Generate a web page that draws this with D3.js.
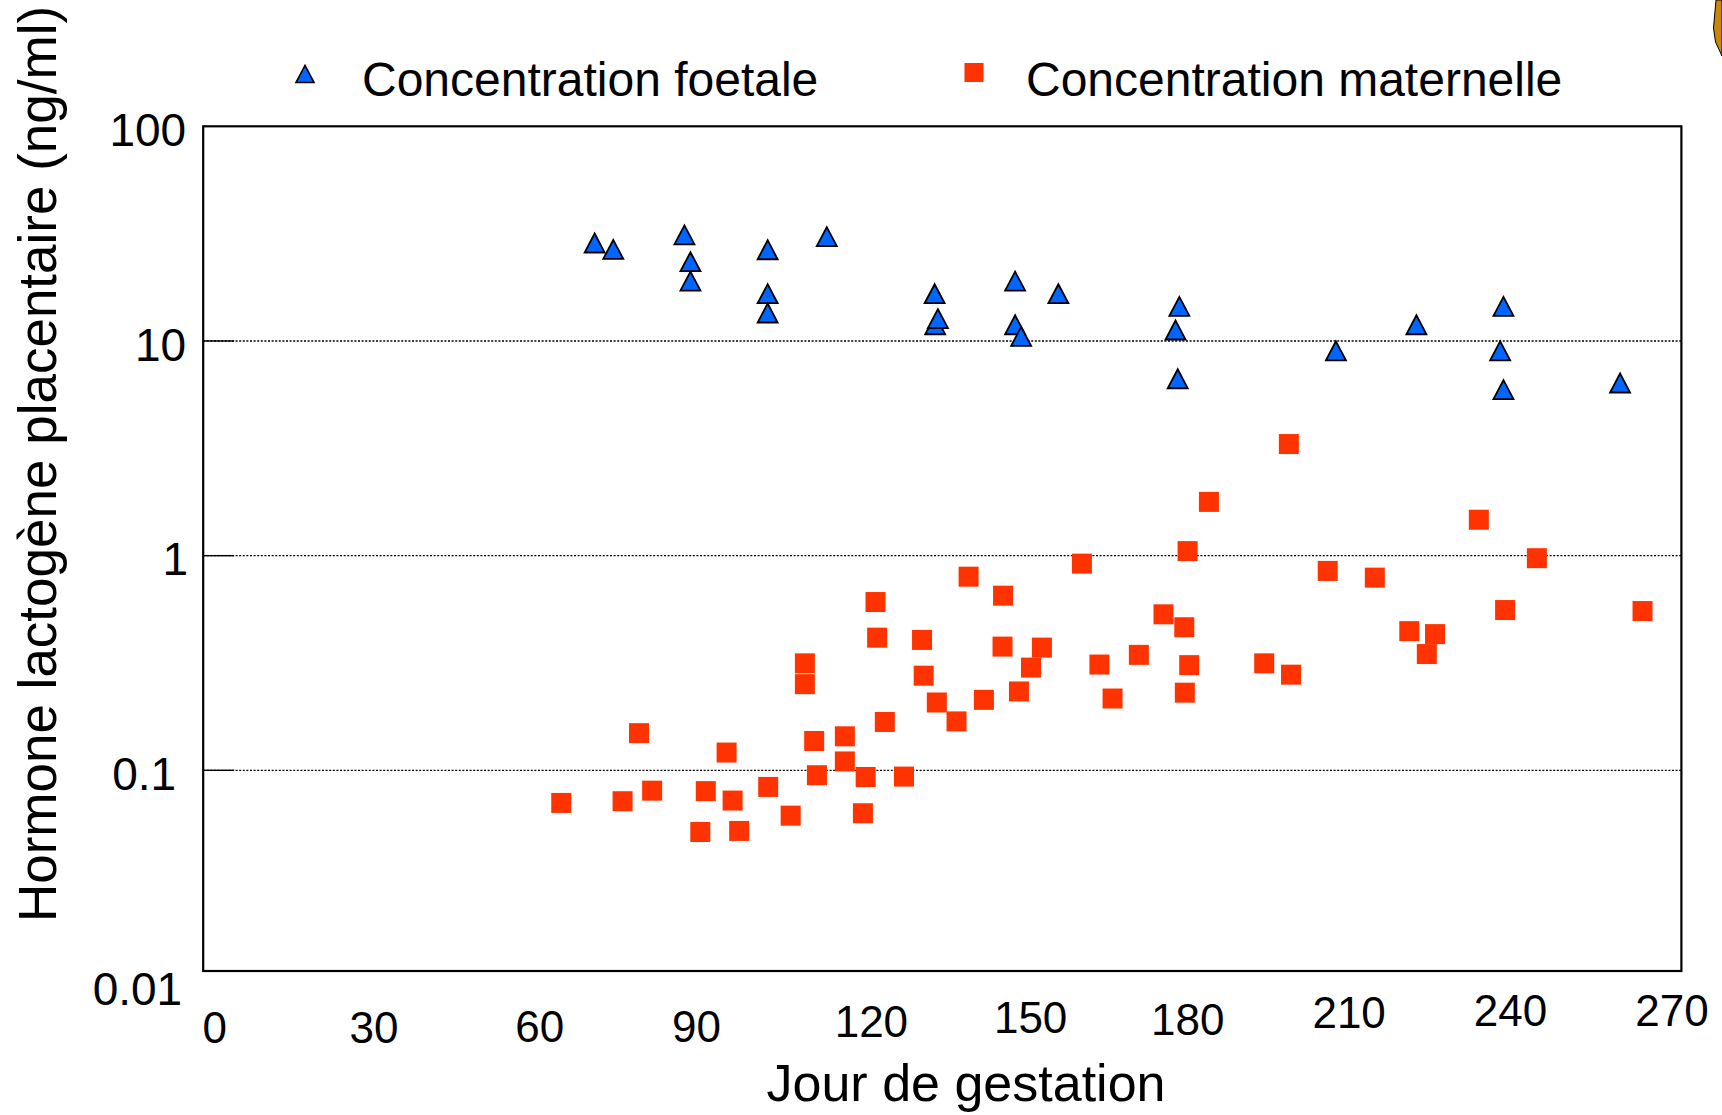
<!DOCTYPE html>
<html>
<head>
<meta charset="utf-8">
<script src="https://cdn.jsdelivr.net/npm/d3@7"></script>
<style>
  html, body { margin: 0; padding: 0; background: #ffffff; }
  svg { display: block; font-family: "Liberation Sans", Arial, Helvetica, sans-serif; }
</style>
</head>
<body>
<svg id="chart" width="1722" height="1115"></svg>
<script>
// ---------- DATA ----------
const xTicks = [0, 30, 60, 90, 120, 150, 180, 210, 240, 270];
const yTicks = [0.01, 0.1, 1, 10, 100];
const yTickLabels = ["0.01", "0.1", "1", "10", "100"];
const xTitle = "Jour de gestation";
const yTitle = "Hormone lactogène placentaire (ng/ml)";
const seriesNames = ["Concentration foetale", "Concentration maternelle"];

// Fetal concentration (triangles)
const fetalDay  = [71.5, 74.9, 87.9, 89.0, 89.0, 103.1, 103.1, 103.1, 113.9, 133.6, 133.7, 134.2,
                   148.3, 148.3, 149.4, 156.2, 178.3, 177.6, 178.0, 206.9, 221.6, 237.5, 236.9, 237.5, 258.8];
const fetalConc = [28.6, 26.7, 31.2, 23.4, 19.0, 26.6, 16.6, 13.5, 30.6, 16.6, 11.9, 12.7,
                   19.0, 11.9, 10.5, 16.6, 14.5, 11.25, 6.67, 9.0, 11.9, 14.5, 9.0, 5.93, 6.37];

// Maternal concentration (squares)
const maternalDay  = [65.4, 76.6, 79.6, 82.0, 90.8, 91.8, 95.6, 96.7, 97.9, 103.2, 107.3, 109.9,
                      109.9, 111.6, 112.1, 117.2, 117.2, 120.5, 121.0, 122.8, 123.1, 124.5, 128.0, 131.3,
                      131.6, 134.0, 137.6, 139.8, 142.6, 146.0, 146.1, 149.0, 151.2, 153.2, 160.5, 163.7,
                      166.1, 170.9, 175.4, 179.3, 179.2, 179.8, 180.1, 183.7, 193.8, 198.3, 198.7, 205.4,
                      214.0, 220.3, 223.5, 225.0, 233.0, 237.8, 243.6, 262.9];
const maternalConc = [0.0705, 0.0718, 0.149, 0.0804, 0.0516, 0.080, 0.121, 0.0723, 0.0522, 0.0837, 0.0615, 0.315,
                      0.252, 0.137, 0.0949, 0.144, 0.110, 0.0631, 0.0931, 0.608, 0.415, 0.168, 0.0935, 0.405,
                      0.276, 0.207, 0.169, 0.798, 0.213, 0.377, 0.651, 0.233, 0.301, 0.373, 0.918, 0.311,
                      0.216, 0.345, 0.533, 0.230, 0.464, 1.05, 0.309, 1.78, 0.315, 3.31, 0.279, 0.849,
                      0.790, 0.445, 0.348, 0.431, 1.47, 0.558, 0.973, 0.552];

// ---------- LAYOUT ----------
const W = 1722, H = 1115;
const plotLeft = 203.2, plotRight = 1681.4, plotTop = 126.3, frameBottom = 971;
const blue = "#0066ff", red = "#ff3300";

const svg = d3.select("#chart");
svg.append("rect").attr("width", W).attr("height", H).attr("fill", "#fff");

const x = d3.scaleLinear().domain([0, 270]).range([plotLeft, plotRight]);
const y = d3.scaleLog().domain([0.01, 100]).range([985, plotTop]);

// gridlines (dotted) for inner decades
const innerTicks = yTicks.filter(d => d > 0.01 && d < 100);
svg.append("g").selectAll("line").data(innerTicks).join("line")
  .attr("x1", plotLeft).attr("x2", plotRight)
  .attr("y1", d => y(d)).attr("y2", d => y(d))
  .attr("stroke", "#000").attr("stroke-width", 1.4)
  .attr("stroke-dasharray", "2,1.6");
// inward solid ticks
svg.append("g").selectAll("line").data(innerTicks).join("line")
  .attr("x1", plotLeft).attr("x2", plotLeft + 31)
  .attr("y1", d => y(d)).attr("y2", d => y(d))
  .attr("stroke", "#000").attr("stroke-width", 1.4);

// frame
svg.append("rect")
  .attr("x", plotLeft).attr("y", plotTop)
  .attr("width", plotRight - plotLeft).attr("height", frameBottom - plotTop)
  .attr("fill", "none").attr("stroke", "#000").attr("stroke-width", 2.2);

// Y axis labels
const yNudge = [-4, -10, 2, 0, 0];
const yAxis = d3.axisLeft(y).tickValues(yTicks)
  .tickFormat((d, i) => yTickLabels[i]).tickSize(0).tickPadding(17);
const gy = svg.append("g").attr("transform", `translate(${plotLeft},0)`).call(yAxis);
gy.select(".domain").remove();
gy.selectAll("text").attr("font-size", 46).attr("font-family", "Liberation Sans, Arial, sans-serif")
  .attr("fill", "#000").attr("dy", "0.42em")
  .attr("dx", (d, i) => yNudge[i]);

// X axis labels (hand-placed nudges as in the original figure)
const xNudge = [[11, 71.5], [6, 71.5], [7.5, 70.5], [0, 70.5], [10.7, 66], [5.7, 61.7],
                [-1.5, 64], [-4.3, 57.3], [-7.2, 55], [-9.9, 55]];
const xAxis = d3.axisBottom(x).tickValues(xTicks).tickFormat(d3.format("d")).tickSize(0);
const gx = svg.append("g").attr("transform", `translate(0,${frameBottom})`).call(xAxis);
gx.select(".domain").remove();
gx.selectAll("text").attr("font-size", 44).attr("font-family", "Liberation Sans, Arial, sans-serif")
  .attr("fill", "#000").attr("dy", null)
  .attr("x", (d, i) => xNudge[i][0])
  .attr("y", (d, i) => xNudge[i][1]);

// axis titles
svg.append("text").text(xTitle)
  .attr("x", 966).attr("y", 1101)
  .attr("text-anchor", "middle").attr("font-size", 52).attr("fill", "#000");
svg.append("text").text(yTitle)
  .attr("transform", "translate(56,464) rotate(-90)")
  .attr("text-anchor", "middle").attr("font-size", 53).attr("fill", "#000");

// marker shapes
const triPath = "M0,-9.5L10,9.5L-10,9.5Z";
const sq = 20;

// maternal squares
svg.append("g").selectAll("rect").data(maternalDay.map((d, i) => [d, maternalConc[i]])).join("rect")
  .attr("x", d => x(d[0]) - sq / 2).attr("y", d => y(d[1]) - sq / 2)
  .attr("width", sq).attr("height", sq)
  .attr("fill", red);

// fetal triangles
svg.append("g").selectAll("path").data(fetalDay.map((d, i) => [d, fetalConc[i]])).join("path")
  .attr("d", triPath)
  .attr("transform", d => `translate(${x(d[0])},${y(d[1])})`)
  .attr("fill", blue).attr("stroke", "#000").attr("stroke-width", 1.8).attr("stroke-linejoin", "miter");

// legend
const leg = svg.append("g");
leg.append("path").attr("d", triPath).attr("transform", "translate(305,74) scale(0.9)")
  .attr("fill", blue).attr("stroke", "#000").attr("stroke-width", 1.8);
leg.append("text").text(seriesNames[0]).attr("x", 362).attr("y", 96)
  .attr("font-size", 48).attr("fill", "#000");
leg.append("rect").attr("x", 974 - 9.5).attr("y", 72.5 - 9.5).attr("width", 19).attr("height", 19)
  .attr("fill", red);
leg.append("text").text(seriesNames[1]).attr("x", 1026).attr("y", 96)
  .attr("font-size", 48).attr("fill", "#000");

// cut-off clipart at top-right edge of the original slide
svg.append("path").attr("d", "M1722,0L1716,0L1713.5,28L1715.5,42L1722,56Z")
  .attr("fill", "#c8860a").attr("stroke", "#000").attr("stroke-width", 1);
</script>
</body>
</html>
